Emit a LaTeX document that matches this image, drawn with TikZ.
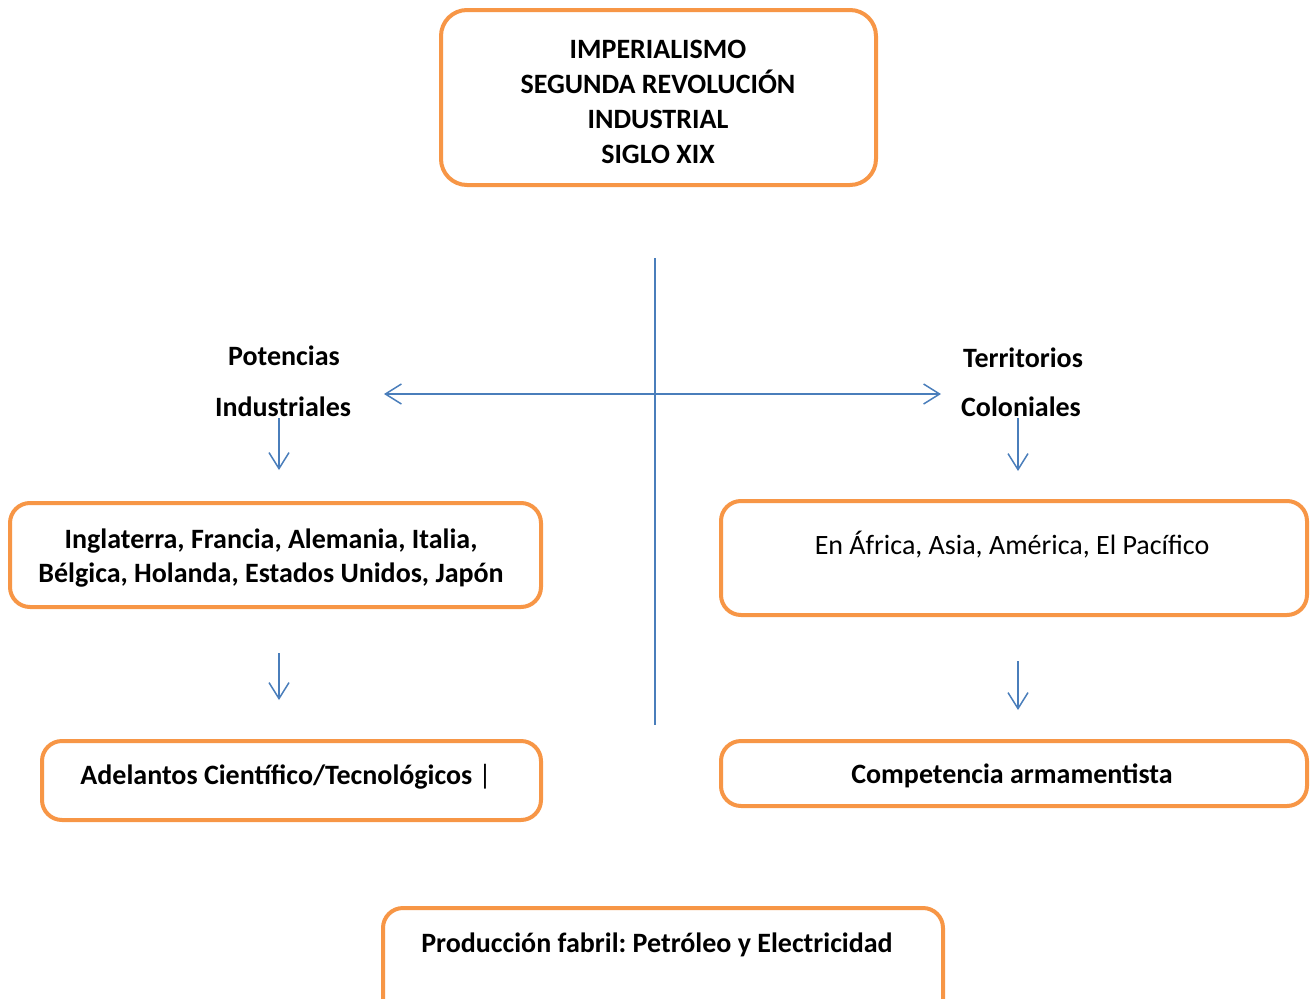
\documentclass[tikz,border=0pt]{standalone}
\usepackage{fontspec}
\setmainfont{Carlito}
\usetikzlibrary{arrows.meta}
\definecolor{orng}{HTML}{F79646}
\definecolor{blu}{HTML}{4A7EBB}
\frenchspacing
\begin{document}
\begin{tikzpicture}[x=1pt,y=-1pt,
  font=\fontsize{28}{35}\selectfont,
  box/.style={draw=orng, line width=4pt, rounded corners=20pt, fill=white, inner sep=0pt},
  txt/.style={inner sep=0pt, align=center, text=black},
  bold/.style={font=\fontsize{28}{35}\selectfont\bfseries},
  conn/.style={draw=blu, line width=1.5pt},
  tipv/.tip={Straight Barb[length=16pt,width=20pt]},
  arr/.style={conn, -tipv},
  darr/.style={conn, tipv-tipv}]
\useasboundingbox (0,0) rectangle (1310,999);
\clip (0,0) rectangle (1310,999);
% boxes
\node[box, minimum width=435pt, minimum height=175pt, rounded corners=26pt] (top) at (658.5,97.5) {};
\node[txt, bold] (toptxt) at (658,102) {IMPERIALISMO\\SEGUNDA REVOLUCIÓN\\INDUSTRIAL\\SIGLO XIX};
\node[box, minimum width=531pt, minimum height=104pt] (paises) at (275.5,555) {};
\node[txt, font=\fontsize{28}{34}\selectfont\bfseries] (paisestxt) at (271,558) {Inglaterra, Francia, Alemania, Italia,\\Bélgica, Holanda, Estados Unidos, Japón};
\node[box, minimum width=586pt, minimum height=114pt] (lugares) at (1014,558) {};
\node[txt] (lugarestxt) at (1012,544.5) {En África, Asia, América, El Pacífico};
\node[box, minimum width=499pt, minimum height=79pt] (adel) at (291.5,780.5) {};
\node[txt, bold] (adeltxt) at (286,777) {Adelantos Científico/Tecnológicos {\mdseries|}};
\node[box, minimum width=586pt, minimum height=65pt] (comp) at (1014,773.5) {};
\node[txt, bold] (comptxt) at (1012,776) {Competencia armamentista};
\node[box, minimum width=560pt, minimum height=122pt] (prod) at (663,969) {};
\node[txt, bold] (prodtxt) at (657,945) {Producción fabril: Petróleo y Electricidad};
% labels
\node[txt, bold] (pot) at (284,355.5) {Potencias};
\node[txt, bold] (ind) at (283,406.5) {Industriales};
\node[txt, bold] (terr) at (1023,357.5) {Territorios};
\node[txt, bold] (col) at (1021,406.5) {Coloniales};
% connector end points
\coordinate (vt) at (655,258);
\coordinate (vb) at (655,725);
\coordinate (hl) at (384,394);
\coordinate (hr) at (941,394);
\coordinate (a1s) at (279,418);
\coordinate (a1e) at (279,470);
\coordinate (a2s) at (1018,418);
\coordinate (a2e) at (1018,471);
\coordinate (a3s) at (279,653);
\coordinate (a3e) at (279,700);
\coordinate (a4s) at (1018,661);
\coordinate (a4e) at (1018,710);
% connectors
\draw[conn] (vt) -- (vb);
\draw[darr] (hl) -- (hr);
\draw[arr] (a1s) -- (a1e);
\draw[arr] (a2s) -- (a2e);
\draw[arr] (a3s) -- (a3e);
\draw[arr] (a4s) -- (a4e);
\end{tikzpicture}
\end{document}
